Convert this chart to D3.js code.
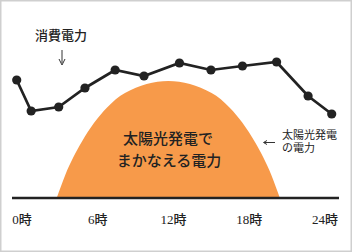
<!DOCTYPE html>
<html>
<head>
<meta charset="utf-8">
<script src="https://cdnjs.cloudflare.com/ajax/libs/d3/7.8.5/d3.min.js"></script>
<style>
  body { margin: 0; background: #fff; }
  .jp { font-family: "Liberation Serif", "Noto Sans CJK JP", serif; fill: #222; }
</style>
</head>
<body>
<div id="chart"></div>
<script>
// 消費電力 (hour, value)
var useHours  = [0, 1.1, 3.2, 5.2, 7.5, 9.7, 12.4, 14.8, 17.2, 19.8, 22.2, 24];
var useValues = [118, 87, 91, 110, 128, 122, 135, 128, 132, 136, 102, 84];

// 太陽光発電 (hour, value)
var solarHours  = [3.05, 3.7, 4.95, 6.85, 8.25, 11.55, 14.85, 16.25, 18.15, 19.4, 20.05];
var solarValues = [0, 23, 56, 90, 105, 117, 105, 90, 56, 23, 0];

var tickHours  = [0, 6, 12, 18, 24];
var tickLabels = ["0時", "6時", "12時", "18時", "24時"];

var width = 352, height = 252;

var svg = d3.select("#chart").append("svg")
    .attr("width", width)
    .attr("height", height);

var x = d3.scaleLinear().domain([0, 24]).range([16.7, 331.7]);
var xLabel = d3.scaleLinear().domain([0, 24]).range([22, 325]);
var y = d3.scaleLinear().domain([0, 140]).range([198, 58]);

// border
svg.append("rect")
    .attr("x", 0.75).attr("y", 0.75)
    .attr("width", width - 1.5).attr("height", height - 1.5)
    .attr("fill", "none")
    .attr("stroke", "#cfcfcf")
    .attr("stroke-width", 1.5);

// solar area
var solar = solarHours.map(function(h, i) { return [h, solarValues[i]]; });
var area = d3.area()
    .x(function(d) { return x(d[0]); })
    .y0(y(0))
    .y1(function(d) { return y(d[1]); })
    .curve(d3.curveMonotoneX);

svg.append("path")
    .datum(solar)
    .attr("d", area)
    .attr("fill", "#f79a4a");

// baseline
svg.append("line")
    .attr("x1", 12).attr("x2", 339)
    .attr("y1", y(0)).attr("y2", y(0))
    .attr("stroke", "#222")
    .attr("stroke-width", 2.5);

// tick labels
svg.selectAll(".tick-label")
    .data(tickHours)
    .enter().append("text")
    .attr("class", "tick-label jp")
    .attr("x", function(d) { return xLabel(d); })
    .attr("y", 224)
    .attr("text-anchor", "middle")
    .style("font-size", "13px")
    .style("font-weight", 500)
    .text(function(d, i) { return tickLabels[i]; });

// consumption line
var use = useHours.map(function(h, i) { return [h, useValues[i]]; });
var line = d3.line()
    .x(function(d) { return x(d[0]); })
    .y(function(d) { return y(d[1]); });

svg.append("path")
    .datum(use)
    .attr("d", line)
    .attr("fill", "none")
    .attr("stroke", "#222")
    .attr("stroke-width", 2.7);

svg.selectAll(".dot")
    .data(use)
    .enter().append("circle")
    .attr("class", "dot")
    .attr("cx", function(d) { return x(d[0]); })
    .attr("cy", function(d) { return y(d[1]); })
    .attr("r", 4.6)
    .attr("fill", "#222");

// labels
svg.append("text")
    .attr("class", "jp")
    .attr("x", 35).attr("y", 40)
    .style("font-size", "13px")
    .style("font-weight", 500)
    .text("消費電力");

// down arrow
svg.append("line")
    .attr("x1", 62).attr("x2", 62)
    .attr("y1", 50).attr("y2", 63)
    .attr("stroke", "#333").attr("stroke-width", 1);
svg.append("path")
    .attr("d", "M59,59 L62,65 L65,59")
    .attr("fill", "none")
    .attr("stroke", "#333").attr("stroke-width", 1);

svg.append("text")
    .attr("class", "jp")
    .attr("x", 168).attr("y", 144)
    .attr("text-anchor", "middle")
    .style("font-size", "15px")
    .style("font-weight", 500)
    .text("太陽光発電で");

svg.append("text")
    .attr("class", "jp")
    .attr("x", 169).attr("y", 166)
    .attr("text-anchor", "middle")
    .style("font-size", "15px")
    .style("font-weight", 500)
    .text("まかなえる電力");

svg.append("text")
    .attr("class", "jp")
    .attr("x", 282).attr("y", 139)
    .style("font-size", "11px")
    .text("太陽光発電");

svg.append("text")
    .attr("class", "jp")
    .attr("x", 282).attr("y", 152)
    .style("font-size", "11px")
    .text("の電力");

// left arrow
svg.append("line")
    .attr("x1", 264).attr("x2", 275)
    .attr("y1", 142.5).attr("y2", 142.5)
    .attr("stroke", "#333").attr("stroke-width", 1);
svg.append("path")
    .attr("d", "M267,140.5 L263.5,142.5 L267,144.5")
    .attr("fill", "none")
    .attr("stroke", "#333").attr("stroke-width", 1);
</script>
</body>
</html>
